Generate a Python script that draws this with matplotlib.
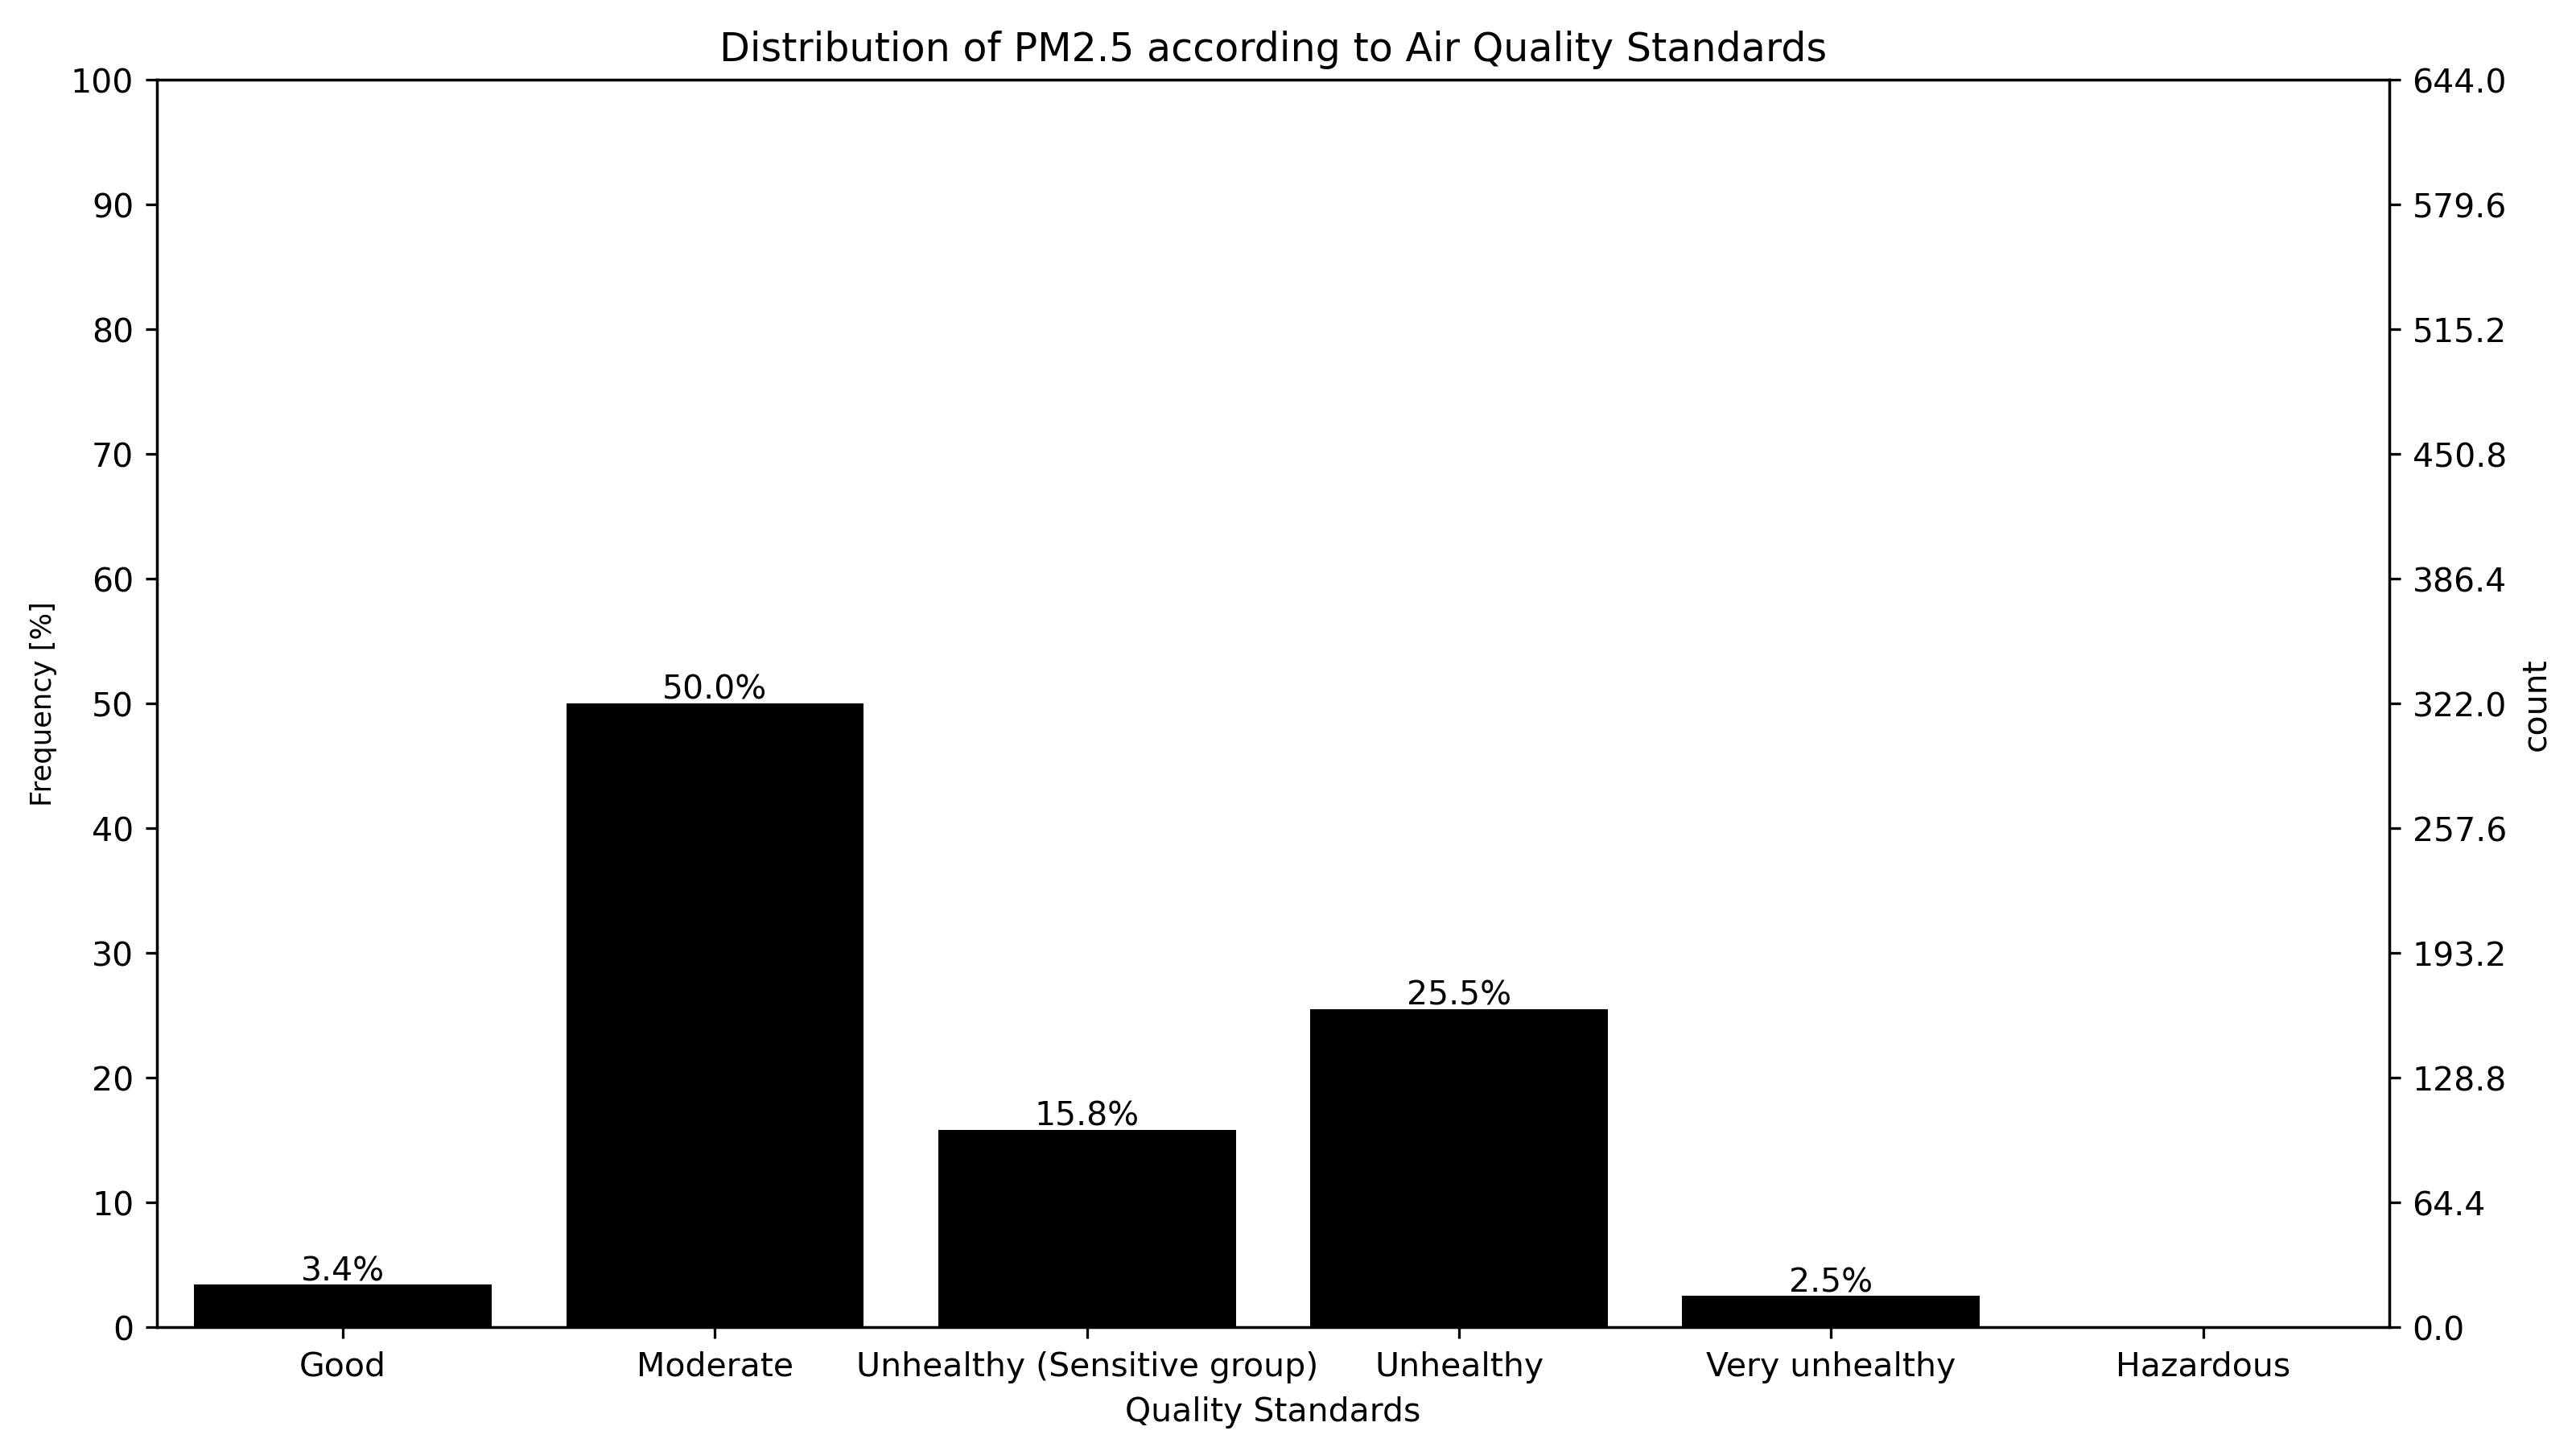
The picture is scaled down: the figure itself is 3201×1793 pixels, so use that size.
import numpy as np
import matplotlib
matplotlib.use("Agg")
import matplotlib.pyplot as plt

categories = ["Good", "Moderate", "Unhealthy (Sensitive group)", "Unhealthy",
              "Very unhealthy", "Hazardous"]
percent = [3.4, 50.0, 15.8, 25.5, 2.5, 0.0]
total_count = 644.0
count_ticks = np.linspace(0, total_count, 11)

DPI = 295
fig = plt.figure(figsize=(3201 / DPI, 1794 / DPI), dpi=DPI)
ax = fig.add_axes([0.0609, 0.0803, 0.8666, 0.8638])

x = np.arange(len(categories))
bars = ax.bar(x, percent, width=0.8, color="black")
for xi, p in zip(x, percent):
    if p > 0:
        ax.annotate(f"{p:.1f}%", (xi, p), xytext=(0, 1.5), textcoords="offset points",
                    ha="center", va="baseline", fontsize=10)

ax.set_xlim(-0.5, len(categories) - 0.5)
ax.set_ylim(0, 100)
ax.set_yticks(np.arange(0, 101, 10))
ax.set_xticks(x)
ax.set_xticklabels(categories)
ax.set_xlabel("Quality Standards")
ax.set_ylabel("Frequency [%]", fontsize=8.6)
ax.set_title("Distribution of PM2.5 according to Air Quality Standards")

ax2 = ax.twinx()
ax2.set_ylim(0, total_count)
ax2.set_yticks(count_ticks)
ax2.set_yticklabels([f"{v:.1f}" for v in count_ticks])
ax2.set_ylabel("count")

fig.savefig("out.png", dpi=DPI)
